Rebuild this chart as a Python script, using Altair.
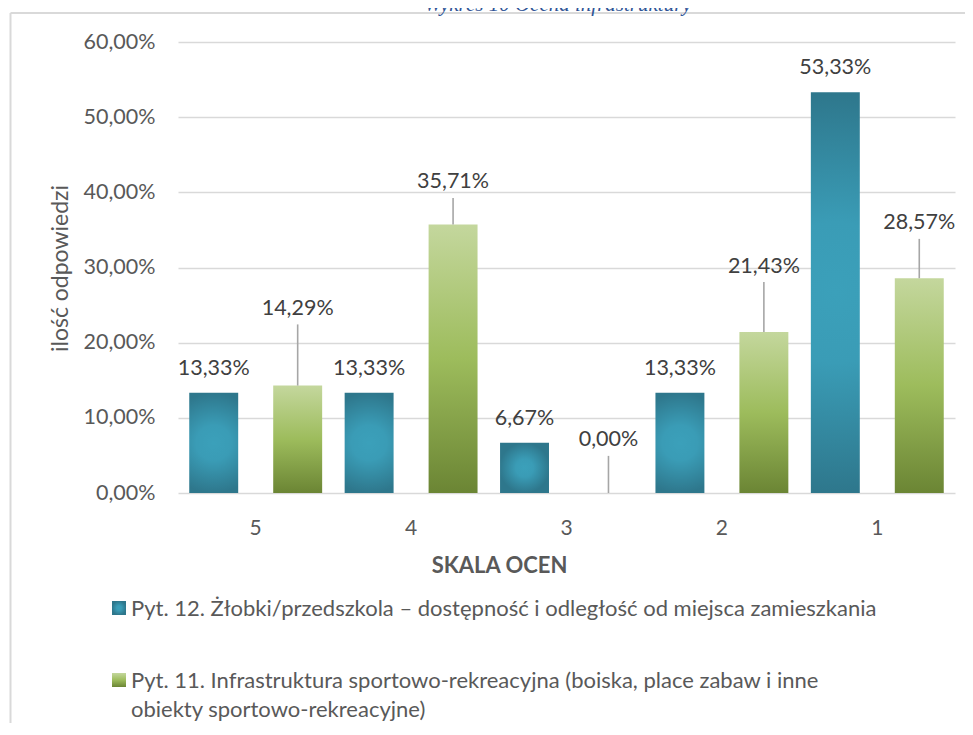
import altair as alt
import pandas as pd

# ---------------- data ----------------
categories = ["5", "4", "3", "2", "1"]
series_names = [
    "Pyt. 12. Żłobki/przedszkola – dostępność i odległość od miejsca zamieszkania",
    "Pyt. 11. Infrastruktura sportowo-rekreacyjna (boiska, place zabaw i inne obiekty sportowo-rekreacyjne)",
]
blue_values = [13.33, 13.33, 6.67, 13.33, 53.33]
green_values = [14.29, 35.71, 0.00, 21.43, 28.57]
# how far (in percentage points) each green label sits above its bar (leader-line labels)
green_label_lift = [10.4, 5.8, 7.2, 8.9, 7.5]
y_ticks = [0, 10, 20, 30, 40, 50, 60]
chart_title = "Wykres 10 Ocena infrastruktury"
x_title = "SKALA OCEN"
y_title = "ilość odpowiedzi"

rows = []
for c, v in zip(categories, blue_values):
    rows.append(dict(category=c, key="b", value=v, label_y=v))
for c, v, l in zip(categories, green_values, green_label_lift):
    rows.append(dict(category=c, key="g", value=v, label_y=v + l))
df = pd.DataFrame(rows)
df["label"] = df["value"].map(lambda v: f"{v:.2f}".replace(".", ",") + "%")

# ---------------- style ----------------
FONT = "Lato"
AXIS_GRAY = "#595959"
LABEL_GRAY = "#404040"

blue_grad = {
    "gradient": "radial",
    "x1": 0.5, "y1": 0.5, "x2": 0.5, "y2": 0.5, "r1": 0, "r2": 0.5,
    "stops": [
        {"offset": 0, "color": "#3BA0BA"},
        {"offset": 0.35, "color": "#3A9CB6"},
        {"offset": 1, "color": "#2E778C"},
    ],
}
green_grad = {
    "gradient": "linear",
    "x1": 0, "y1": 0, "x2": 0, "y2": 1,
    "stops": [
        {"offset": 0, "color": "#C4D79D"},
        {"offset": 0.5, "color": "#9DBC5C"},
        {"offset": 1, "color": "#6B8534"},
    ],
}

x_axis = alt.Axis(
    title=x_title, labelFont=FONT, labelFontSize=21, labelColor=AXIS_GRAY,
    labelAngle=0, labelPadding=24, ticks=False, domain=False, grid=False,
    titleFont=FONT, titleFontSize=22, titleFontWeight="bold", titleColor=AXIS_GRAY,
    titleX=321, titleY=79, titleAlign="center", titleBaseline="alphabetic",
)
y_axis = alt.Axis(
    title=y_title, values=y_ticks,
    labelExpr="replace(format(datum.value, '.2f'), '.', ',') + '%'",
    labelFont=FONT, labelFontSize=21.5, labelColor=AXIS_GRAY, labelPadding=23,
    ticks=False, domain=False, grid=True,
    titleFont=FONT, titleFontSize=23, titleFontWeight="normal", titleColor=AXIS_GRAY,
    titleX=-118, titleY=226, titleAngle=-90, titleAlign="center", titleBaseline="middle",
)

x_enc = alt.X("category:N", sort=categories,
              scale=alt.Scale(paddingInner=0, paddingOuter=0), axis=x_axis)
xo_enc = alt.XOffset("key:N", sort=["b", "g"],
                     scale=alt.Scale(domain=["b", "g"], paddingInner=0.417, paddingOuter=0.134))
y_scale = alt.Scale(domain=[0, 60], nice=False)


def y_enc(field):
    return alt.Y(field, scale=y_scale, axis=y_axis)


blue = alt.Chart(df).transform_filter(alt.datum.key == "b")
green = alt.Chart(df).transform_filter(alt.datum.key == "g")

blue_bars = blue.mark_bar(fill=blue_grad).encode(
    x=x_enc, xOffset=xo_enc, y=y_enc("value:Q"))
green_bars = green.mark_bar(fill=green_grad).encode(
    x=x_enc, xOffset=xo_enc, y=y_enc("value:Q"))

blue_text = blue.mark_text(baseline="alphabetic", dy=-18, font=FONT, fontSize=21.5,
                           color=LABEL_GRAY).encode(
    x=x_enc, xOffset=xo_enc, y=y_enc("value:Q"), text="label:N")
green_rule = green.mark_rule(color="#A6A6A6", strokeWidth=1.6, y2Offset=17).encode(
    x=x_enc, xOffset=xo_enc, y=y_enc("value:Q"), y2="label_y:Q")
green_text = green.mark_text(baseline="alphabetic", dy=7.5, font=FONT, fontSize=21.5,
                             color=LABEL_GRAY).encode(
    x=x_enc, xOffset=xo_enc, y=y_enc("label_y:Q"), text="label:N")

one = pd.DataFrame({"k": [0]})

border_left = alt.Chart(one).mark_rule(color="#D9D9D9", strokeWidth=2).encode(
    x=alt.value(-167.5), y=alt.value(-29), y2=alt.value(720))
border_top = alt.Chart(one).mark_rule(color="#D9D9D9", strokeWidth=2).encode(
    x=alt.value(-167.5), x2=alt.value(820), y=alt.value(-29))

title_text = alt.Chart(one).mark_text(
    font="Liberation Serif", fontStyle="italic", fontSize=21, color="#2F5496",
    align="center", baseline="alphabetic").encode(
    x=alt.value(380), y=alt.value(-31), text=alt.value(chart_title))

leg_sq_1 = alt.Chart(one).mark_rect(fill=blue_grad).encode(
    x=alt.value(-66), x2=alt.value(-52), y=alt.value(559), y2=alt.value(573))
leg_sq_2 = alt.Chart(one).mark_rect(fill=green_grad).encode(
    x=alt.value(-66), x2=alt.value(-52), y=alt.value(631), y2=alt.value(645))

split_at = series_names[1].index(" obiekty")
leg_lines_2 = [series_names[1][:split_at], series_names[1][split_at + 1:]]

leg_txt_1 = alt.Chart(one).mark_text(
    font=FONT, fontSize=22, color=AXIS_GRAY, align="left", baseline="alphabetic").encode(
    x=alt.value(-47), y=alt.value(574), text=alt.value(series_names[0]))
leg_txt_2 = alt.Chart(one).mark_text(
    font=FONT, fontSize=22, color=AXIS_GRAY, align="left", baseline="alphabetic",
    lineHeight=29).encode(
    x=alt.value(-47), y=alt.value(646), text=alt.value(leg_lines_2))

chart = alt.layer(
    blue_bars, green_bars, green_rule, blue_text, green_text,
    border_left, border_top, title_text,
    leg_sq_1, leg_sq_2, leg_txt_1, leg_txt_2,
).properties(
    width=777, height=451,
    padding={"left": 170, "top": 34, "right": 10, "bottom": 230},
    autosize=alt.AutoSizeParams(type="none"),
).configure_view(strokeWidth=0).configure_axis(gridColor="#D9D9D9", gridWidth=1.5)

chart.save("out.html", embed_options={"renderer": "svg", "actions": False})
